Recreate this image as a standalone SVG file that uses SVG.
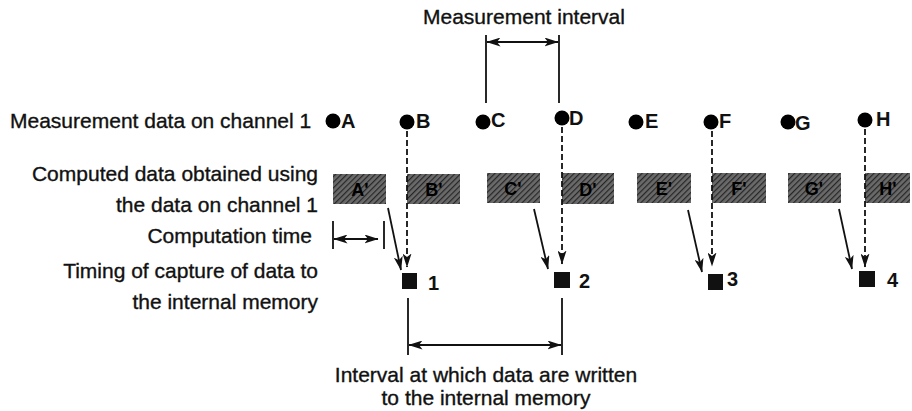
<svg xmlns="http://www.w3.org/2000/svg" width="912" height="411" viewBox="0 0 912 411">
<defs>
<style>
.t{font-family:"Liberation Sans",Arial,sans-serif;font-size:21px;fill:#111;stroke:#111;stroke-width:0.35}
.b{font-family:"Liberation Sans",Arial,sans-serif;font-size:20px;font-weight:bold;fill:#111}
.bl{font-family:"Liberation Sans",Arial,sans-serif;font-size:18px;font-weight:bold;fill:#000;text-anchor:middle}
.ln{stroke:#111;stroke-width:1.8;fill:none}
.ds{stroke:#111;stroke-width:1.8;fill:none;stroke-dasharray:6 3}
.box{fill:url(#hatch)}
</style>
<pattern id="hatch" width="4" height="4" patternUnits="userSpaceOnUse" patternTransform="rotate(45)">
<rect width="4" height="4" fill="#6a6a6a"/>
<line x1="0" y1="0" x2="0" y2="4" stroke="#262626" stroke-width="2.4"/>
</pattern>
<marker id="ah" viewBox="0 0 14 9" refX="13.5" refY="4.5" markerWidth="14" markerHeight="9" markerUnits="userSpaceOnUse" orient="auto-start-reverse">
<path d="M0,0 L14,4.5 L0,9 L3.5,4.5 z" fill="#111"/>
</marker>
</defs>

<g id="labels">
<text class="t" x="423" y="24">Measurement interval</text>
<text class="t" x="10" y="128">Measurement data on channel 1</text>
<text class="t" x="318" y="181" text-anchor="end">Computed data obtained using</text>
<text class="t" x="318" y="212" text-anchor="end">the data on channel 1</text>
<text class="t" x="312" y="243" text-anchor="end">Computation time</text>
<text class="t" x="318" y="278" text-anchor="end">Timing of capture of data to</text>
<text class="t" x="318" y="309" text-anchor="end">the internal memory</text>
<text class="t" x="486" y="382" text-anchor="middle">Interval at which data are written</text>
<text class="t" x="486" y="405" text-anchor="middle">to the internal memory</text>
</g>

<g id="dots">
<g id="dotA"><circle cx="333" cy="121" r="7.5"/><text class="b" x="341" y="128">A</text></g>
<g id="dotB"><circle cx="407" cy="122" r="7.5"/><text class="b" x="416" y="128">B</text></g>
<g id="dotC"><circle cx="483" cy="122" r="7.5"/><text class="b" x="491" y="127">C</text></g>
<g id="dotD"><circle cx="562" cy="118" r="7.5"/><text class="b" x="569" y="125">D</text></g>
<g id="dotE"><circle cx="636" cy="122" r="7.5"/><text class="b" x="645" y="128">E</text></g>
<g id="dotF"><circle cx="711" cy="122" r="7.5"/><text class="b" x="719" y="128">F</text></g>
<g id="dotG"><circle cx="788" cy="122" r="7.5"/><text class="b" x="795" y="130">G</text></g>
<g id="dotH"><circle cx="865" cy="120" r="7.5"/><text class="b" x="876" y="126">H</text></g>
</g>

<g id="computed">
<g id="boxA"><rect class="box" x="333" y="174" width="53" height="30"/><text class="bl" x="360" y="196">A'</text></g>
<g id="boxB"><rect class="box" x="407" y="174" width="53" height="30"/><text class="bl" x="434" y="196">B'</text></g>
<g id="boxC"><rect class="box" x="487" y="173" width="53" height="30"/><text class="bl" x="513" y="195">C'</text></g>
<g id="boxD"><rect class="box" x="562" y="173" width="52" height="31"/><text class="bl" x="588" y="196">D'</text></g>
<g id="boxE"><rect class="box" x="637" y="173" width="54" height="30"/><text class="bl" x="664" y="195">E'</text></g>
<g id="boxF"><rect class="box" x="712" y="173" width="54" height="30"/><text class="bl" x="739" y="195">F'</text></g>
<g id="boxG"><rect class="box" x="788" y="173" width="53" height="30"/><text class="bl" x="814" y="195">G'</text></g>
<g id="boxH"><rect class="box" x="865" y="173" width="45" height="30"/><text class="bl" x="888" y="195">H'</text></g>
</g>

<g id="captures">
<g id="cap1"><rect x="402" y="273" width="15" height="16" fill="#111"/><text class="b" x="428" y="290">1</text></g>
<g id="cap2"><rect x="554" y="272" width="16" height="16" fill="#111"/><text class="b" x="579" y="288">2</text></g>
<g id="cap3"><rect x="708" y="274" width="15" height="16" fill="#111"/><text class="b" x="727" y="286">3</text></g>
<g id="cap4"><rect x="859" y="271" width="16" height="16" fill="#111"/><text class="b" x="887" y="287">4</text></g>
</g>

<g id="connectors">
<line class="ln" x1="486" y1="35" x2="486" y2="103"/>
<line class="ln" x1="559" y1="35" x2="559" y2="103"/>
<line class="ln" x1="487" y1="42" x2="558" y2="42" marker-start="url(#ah)" marker-end="url(#ah)"/>
<line class="ln" x1="333" y1="221" x2="333" y2="249"/>
<line class="ln" x1="384" y1="221" x2="384" y2="249"/>
<line class="ln" x1="334" y1="239" x2="378" y2="239" marker-start="url(#ah)" marker-end="url(#ah)"/>
<line class="ds" x1="407" y1="131" x2="407" y2="267" marker-end="url(#ah)"/>
<line class="ds" x1="562" y1="127" x2="562" y2="264" marker-end="url(#ah)"/>
<line class="ds" x1="712" y1="131" x2="712" y2="266" marker-end="url(#ah)"/>
<line class="ds" x1="865" y1="129" x2="865" y2="267" marker-end="url(#ah)"/>
<line class="ln" x1="388" y1="208" x2="401" y2="270" marker-end="url(#ah)"/>
<line class="ln" x1="534" y1="209" x2="548" y2="269" marker-end="url(#ah)"/>
<line class="ln" x1="688" y1="210" x2="702" y2="272" marker-end="url(#ah)"/>
<line class="ln" x1="839" y1="209" x2="852" y2="269" marker-end="url(#ah)"/>
<line class="ln" x1="408" y1="298" x2="408" y2="355"/>
<line class="ln" x1="562" y1="298" x2="562" y2="355"/>
<line class="ln" x1="409" y1="345" x2="561" y2="345" marker-start="url(#ah)" marker-end="url(#ah)"/>
</g>
</svg>
